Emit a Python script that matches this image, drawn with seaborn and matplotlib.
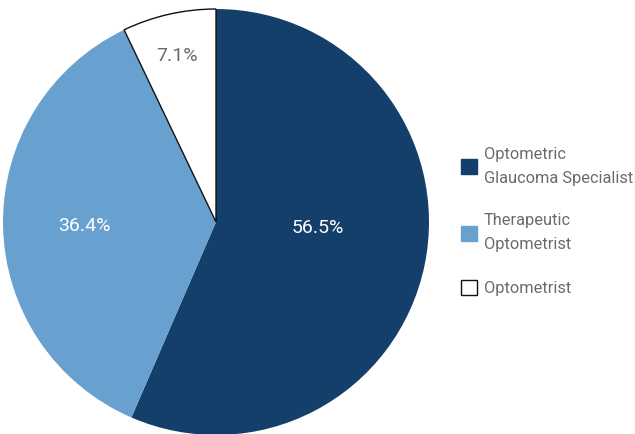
import numpy as np
import seaborn as sns
import matplotlib.pyplot as plt
from matplotlib.patches import Patch

# Data
labels = ["Optometric\nGlaucoma Specialist", "Therapeutic\nOptometrist", "Optometrist"]
shares = [56.5, 36.4, 7.1]
colors = ["#143f6b", "#68a1d0", "#ffffff"]

sns.set_theme(style="white")
plt.rcParams['font.family'] = ['Roboto', 'DejaVu Sans']

fig = plt.figure(figsize=(6.35, 4.34), dpi=100)
ax = fig.add_axes([3/635, -1/434, 426/635, 426/434])

wedges, texts, autotexts = ax.pie(shares, colors=colors, startangle=90, counterclock=False,
                                  autopct='%1.1f%%', pctdistance=0.6,
                                  textprops=dict(fontsize=14),
                                  wedgeprops=dict(linewidth=0))
wedges[2].set_edgecolor("#111111")
wedges[2].set_linewidth(1.0)

# label placement: (distance, angle in degrees)
spots = [(0.48, -3.4), (0.62, 181.7), (0.80, 103.3)]
for t, (r, a), c in zip(autotexts, spots, ["white", "white", "#6b6b6b"]):
    t.set_position((r * np.cos(np.radians(a)), r * np.sin(np.radians(a))))
    t.set_color(c)
ax.set_aspect('equal')
ax.set_xlim(-1, 1)
ax.set_ylim(-1, 1)

handles = [Patch(facecolor=c, edgecolor=(c if i < 2 else "#111111"), linewidth=1)
           for i, c in enumerate(colors)]
leg = fig.legend(handles, labels, loc="center left", bbox_to_anchor=(446/635, 0.49),
                 frameon=False, fontsize=11.8, handlelength=1.0, handleheight=1.0,
                 handletextpad=0.4, labelspacing=1.7, labelcolor="#6b6b6b")
for t in leg.get_texts():
    t.set_linespacing(1.75)

fig.savefig("out.png", dpi=100)
